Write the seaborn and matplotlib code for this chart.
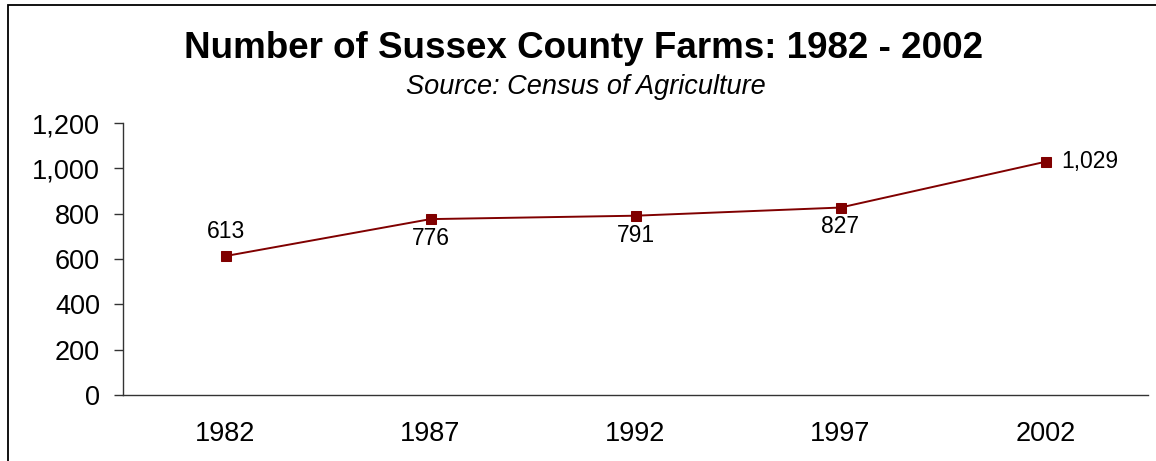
"""
Number of Sussex County farms, 1982 - 2002 (Census of Agriculture)
"""

import pandas as pd
import matplotlib.pyplot as plt
import matplotlib.patches as mpatches
import seaborn as sns

"""
DATA
"""
YEARS = ["1982", "1987", "1992", "1997", "2002"]
FARMS = [613, 776, 791, 827, 1029]
LABEL_POS = ["above", "below", "below", "below", "right"]

Y_TICKS = [0, 200, 400, 600, 800, 1000, 1200]

LINE_COLOR = "#800000"
AXIS_COLOR = "#333333"
FONT = ["Liberation Sans", "DejaVu Sans"]


def make_frame() -> pd.DataFrame:
    """Builds the plotting table from the named lists."""
    return pd.DataFrame({"pos": range(len(YEARS)), "year": YEARS, "farms": FARMS})


def label_offset(where: str) -> tuple:
    """Offset (points) and alignment of a data label."""
    if where == "above":
        return (0, 18), "center", "center"
    if where == "right":
        return (11, 0), "left", "center"
    return (0, -14), "center", "center"


sns.set_theme(style="white")
plt.rcParams["font.family"] = FONT
plt.rcParams["text.color"] = "black"
plt.rcParams["xtick.labelcolor"] = "black"
plt.rcParams["ytick.labelcolor"] = "black"

df = make_frame()

fig = plt.figure(figsize=(11.56, 4.61), dpi=100)
ax = fig.add_axes([123 / 1156, 1 - 395 / 461, (1148 - 123) / 1156, (395 - 123) / 461])

sns.lineplot(data=df, x="pos", y="farms", ax=ax, color=LINE_COLOR, linewidth=1.4,
             marker="s", markersize=7, markeredgecolor=LINE_COLOR, markerfacecolor=LINE_COLOR)

for _, row in df.iterrows():
    off, ha, va = label_offset(LABEL_POS[row["pos"]])
    ax.annotate(f"{row['farms']:,}", (row["pos"], row["farms"]), xytext=off,
                textcoords="offset points", ha=ha, va=va, fontsize=16.5, color="black")

ax.set_xlim(-0.5, len(YEARS) - 0.5)
ax.set_ylim(0, 1200)
ax.set_yticks(Y_TICKS)
ax.set_yticklabels([f"{v:,}" for v in Y_TICKS], fontsize=19.5, color="black")
ax.set_xticks(df["pos"])
ax.set_xticklabels(YEARS, fontsize=19.5, color="black")
ax.set_xticks([i - 0.5 for i in range(len(YEARS) + 1)], minor=True)
ax.tick_params(axis="x", which="major", length=0, pad=19)
ax.tick_params(axis="x", which="minor", length=6.5, width=1, color=AXIS_COLOR, direction="out")
ax.tick_params(axis="y", length=6.5, width=1, color=AXIS_COLOR, direction="out", left=True, pad=10)
ax.set_xlabel("")
ax.set_ylabel("")

for side in ["top", "right"]:
    ax.spines[side].set_visible(False)
for side in ["left", "bottom"]:
    ax.spines[side].set_color(AXIS_COLOR)
    ax.spines[side].set_linewidth(1)

fig.text(0.505, 1 - 48 / 461, "Number of Sussex County Farms: 1982 - 2002",
         ha="center", va="center", fontsize=26.5, fontweight="bold", color="black")
fig.text(0.507, 1 - 87 / 461, "Source: Census of Agriculture",
         ha="center", va="center", fontsize=19.5, style="italic", color="black")

# outer chart border (right and bottom run off the picture)
fig.patches.append(mpatches.Rectangle((8 / 1156, -0.05), 1.2, 1 - 5 / 461 + 0.05,
                                      transform=fig.transFigure, fill=False,
                                      edgecolor="black", linewidth=1.3))

plt.savefig("out.png", dpi=100)
plt.close()
